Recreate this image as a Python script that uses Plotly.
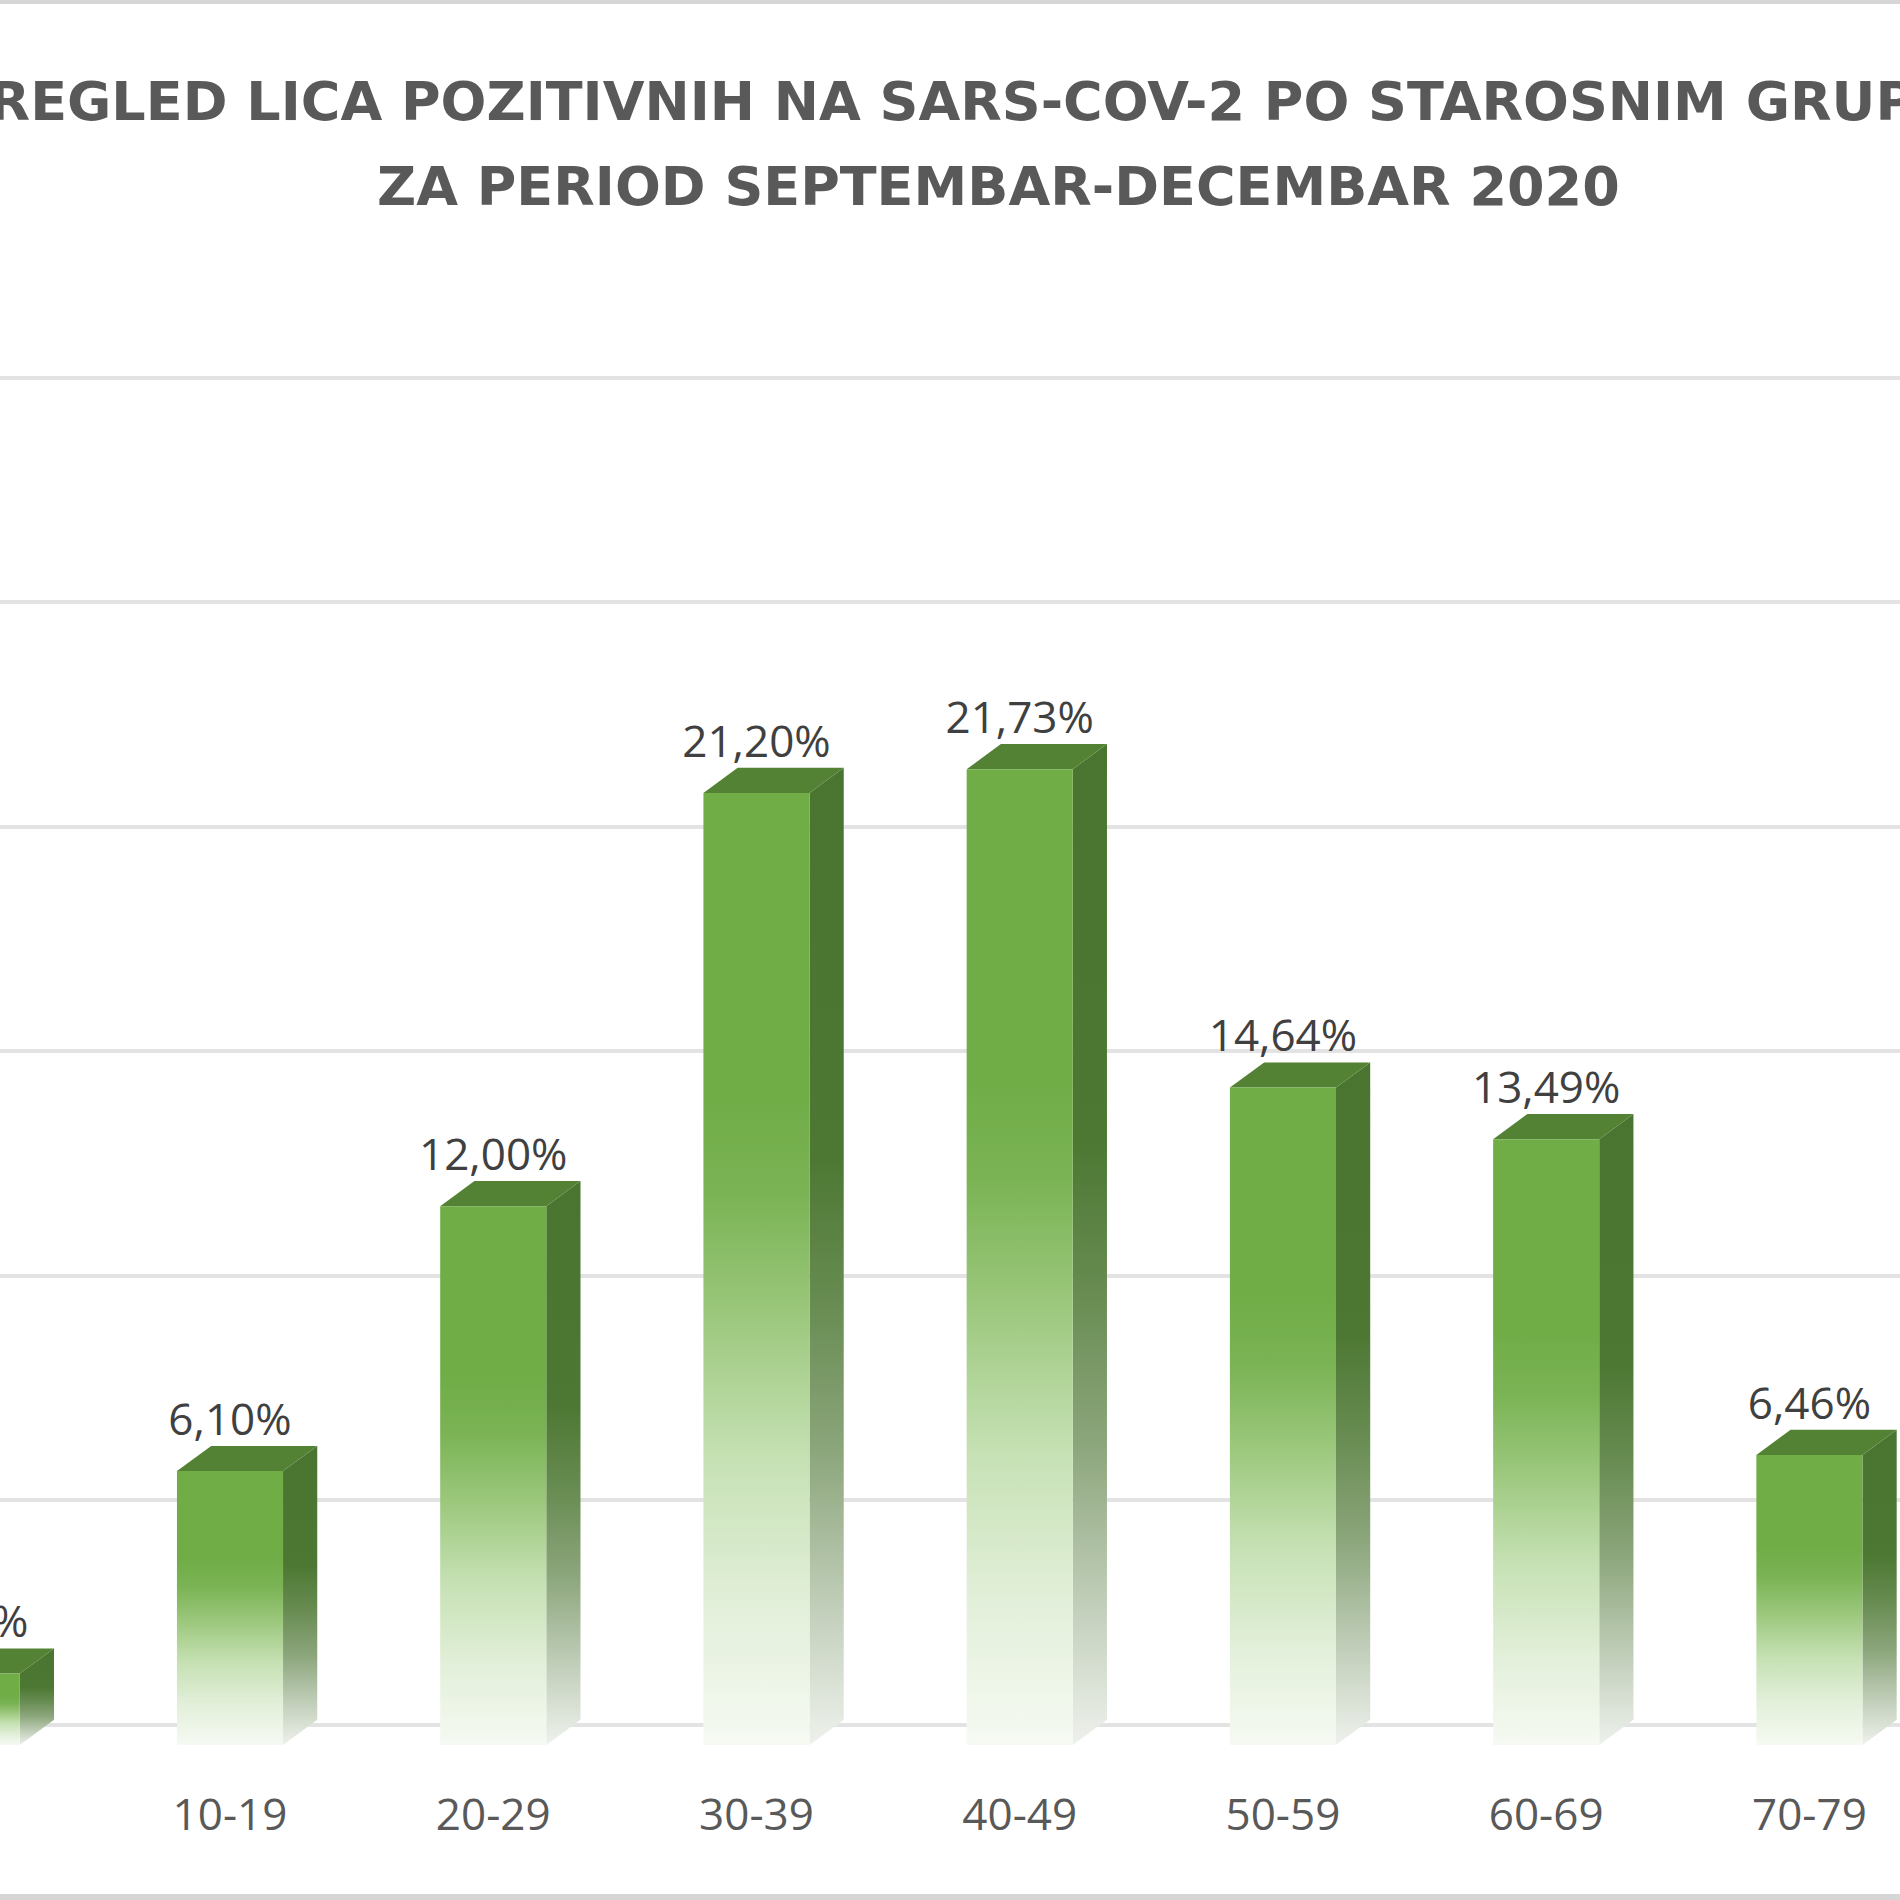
import plotly.graph_objects as go

# ---- data ----
CATEGORIES = ["0-9", "10-19", "20-29", "30-39", "40-49", "50-59", "60-69", "70-79"]
PERCENT = [1.59, 6.10, 12.00, 21.20, 21.73, 14.64, 13.49, 6.46]
GRID_VALUES = [0, 5, 10, 15, 20, 25, 30]
TITLE_LINES = [
    "PREGLED LICA POZITIVNIH NA SARS-COV-2 PO STAROSNIM GRUPAMA",
    "ZA PERIOD SEPTEMBAR-DECEMBAR 2020",
]

# ---- style / geometry of the pseudo-3D columns ----
HALF_W = 0.2015     # half width of the front face (category units)
DEPTH_X = 0.13      # horizontal depth offset
DEPTH_Y = 0.56      # vertical depth offset (% units)
WALL_DY = 0.445     # back wall offset for gridlines

FRONT_SCALE = [[0, "rgb(246,250,243)"], [0.15, "rgb(226,239,217)"], [0.3, "rgb(198,225,180)"],
               [0.45, "rgb(156,200,125)"], [0.58, "rgb(122,179,84)"], [0.68, "#70AD47"],
               [1, "#70AD47"]]
SIDE_SCALE = [[0, "rgb(238,241,236)"], [0.15, "rgb(190,204,182)"], [0.3, "rgb(140,166,124)"],
              [0.45, "rgb(104,140,82)"], [0.6, "#4D7833"], [1, "#4A7530"]]
TOP_COLOR = "#548235"

fig = go.Figure()

xs = list(range(len(CATEGORIES)))
for x, v in zip(xs, PERCENT):
    l, r = x - HALF_W, x + HALF_W
    # side face
    fig.add_trace(go.Scatter(
        x=[r, r + DEPTH_X, r + DEPTH_X, r, r],
        y=[0, DEPTH_Y, v + DEPTH_Y, v, 0],
        mode="lines", line=dict(width=0), fill="toself",
        fillgradient=dict(type="vertical", colorscale=SIDE_SCALE),
        hoverinfo="skip", showlegend=False))
    # top face
    fig.add_trace(go.Scatter(
        x=[l, l + DEPTH_X, r + DEPTH_X, r, l],
        y=[v, v + DEPTH_Y, v + DEPTH_Y, v, v],
        mode="lines", line=dict(width=0), fill="toself", fillcolor=TOP_COLOR,
        hoverinfo="skip", showlegend=False))
    # front face
    fig.add_trace(go.Scatter(
        x=[l, r, r, l, l],
        y=[0, 0, v, v, 0],
        mode="lines", line=dict(width=0), fill="toself",
        fillgradient=dict(type="vertical", colorscale=FRONT_SCALE),
        hoverinfo="skip", showlegend=False))

# data labels
fig.add_trace(go.Scatter(
    x=xs, y=[v + DEPTH_Y for v in PERCENT],
    mode="text",
    text=[f"{v:.2f}%".replace(".", ",") for v in PERCENT],
    textposition="top center",
    textfont=dict(family="Open Sans", size=44, color="#404040"),
    hoverinfo="skip", showlegend=False))

W, H = 1900, 1900
PLOT_BOTTOM = 130
plot_h = H - PLOT_BOTTOM

def py(p):  # pixel row -> paper y
    return (plot_h - p) / plot_h

annotations = []
for text, row in zip(TITLE_LINES, [102, 186]):
    annotations.append(dict(
        text=text, x=999 / W, y=py(row), xref="paper", yref="paper",
        xanchor="center", yanchor="middle", showarrow=False,
        font=dict(family="DejaVu Sans", size=54, color="#595959", weight="bold")))

shapes = [
    dict(type="rect", xref="paper", yref="paper", x0=0, x1=1, y0=py(0), y1=py(4),
         fillcolor="#D6D6D6", line=dict(width=0), layer="above"),
    dict(type="rect", xref="paper", yref="paper", x0=0, x1=1, y0=py(1894), y1=py(1900),
         fillcolor="#D6D6D6", line=dict(width=0), layer="above"),
]

fig.update_layout(
    width=W, height=H,
    margin=dict(l=0, r=0, t=0, b=PLOT_BOTTOM),
    paper_bgcolor="white", plot_bgcolor="white",
    showlegend=False,
    annotations=annotations,
    shapes=shapes,
    xaxis=dict(
        range=[0.1263, 7.3441],
        tickvals=xs, ticktext=CATEGORIES,
        showgrid=False, zeroline=False, showline=False, ticks="",
        tickfont=dict(family="Open Sans", size=44, color="#595959"),
        ticklabelstandoff=15,
    ),
    yaxis=dict(
        range=[-0.557, 38.86],
        tickvals=[g + WALL_DY for g in GRID_VALUES],
        showticklabels=False, ticks="",
        showgrid=True, gridcolor="#E3E3E3", gridwidth=4,
        zeroline=False, showline=False,
    ),
)

fig.write_html("out.html")
